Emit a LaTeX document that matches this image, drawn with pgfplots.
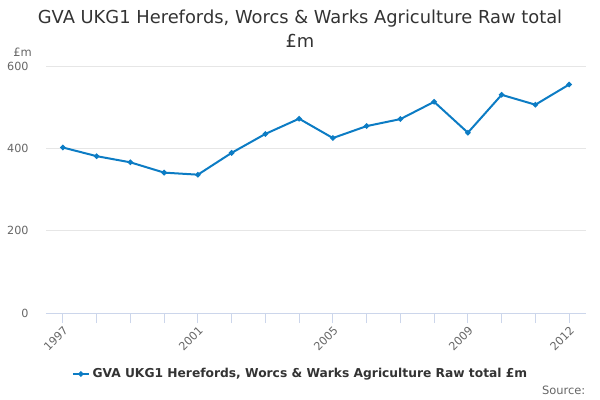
\documentclass[border=0pt]{standalone}
\usepackage{fontspec}
\setmainfont{DejaVu Sans}
\usepackage{pgfplots}
\pgfplotsset{compat=1.18}
\definecolor{linecol}{RGB}{12,124,196}
\definecolor{gridcol}{RGB}{230,230,230}
\definecolor{axcol}{RGB}{204,214,235}
\definecolor{labcol}{RGB}{102,102,102}
\definecolor{titcol}{RGB}{51,51,51}
\begin{document}
\begin{tikzpicture}
	% page = 600 x 400 px, 1px = 0.75pt
	\path[use as bounding box] (0pt,0pt) rectangle (450pt,300pt);
	\node[text=titcol,font=\fontsize{13.4}{16}\selectfont] at (225pt,286pt) {GVA UKG1 Herefords, Worcs \& Warks Agriculture Raw total};
	\node[text=titcol,font=\fontsize{13.4}{16}\selectfont] at (225pt,269.5pt) {£m};
	\node[text=labcol,font=\fontsize{8.6}{10}\selectfont,anchor=west] at (6.5pt,261pt) {£m};
	\node[text=labcol,font=\fontsize{8.6}{10}\selectfont,anchor=east] at (442.5pt,7.5pt) {Source:};
	\begin{axis}[
		at={(34.5pt,65.25pt)}, anchor=south west,
		scale only axis,
		width=405pt, height=185.25pt,
		xmin=1996.5, xmax=2012.5,
		ymin=0, ymax=600,
		axis x line*=bottom, axis y line*=left,
		x axis line style={axcol, line width=0.75pt},
		y axis line style={draw=none},
		xtick={1997,2001,2005,2009,2012},
		minor xtick={1997,...,2012},
		ytick={0,200,400,600},
		ymajorgrids,
		grid style={gridcol, line width=0.75pt},
		tick align=outside,
		major tick length=7.5pt,
		minor tick length=7.5pt,
		x tick style={axcol, line width=0.75pt},
		y tick style={draw=none},
		tick label style={text=labcol, font=\fontsize{8.4}{10}\selectfont},
		xticklabel style={rotate=45, anchor=north east, inner sep=1pt},
		yticklabel style={xshift=-2pt},
		/pgf/number format/assume math mode=true,
		/pgf/number format/1000 sep={},
		legend style={at={(0.472,-0.247)}, anchor=center, draw=none, fill=none,
			font=\fontsize{9.2}{11}\selectfont\bfseries, text=titcol},
		legend image code/.code={\draw[mark repeat=2,mark phase=2] plot coordinates {(0pt,0pt) (6pt,0pt) (12pt,0pt)};},
	]
	\addplot[linecol, line width=1.5pt, mark=*, mark size=1.2pt] coordinates {
		(1997,402) (1998,381) (1999,366) (2000,341) (2001,336)
		(2002,389) (2003,435) (2004,472) (2005,425) (2006,454)
		(2007,471) (2008,513) (2009,438) (2010,530) (2011,506)
		(2012,555)
	};
	\addlegendentry{GVA UKG1 Herefords, Worcs \& Warks Agriculture Raw total £m}
	\end{axis}
\end{tikzpicture}
\end{document}
